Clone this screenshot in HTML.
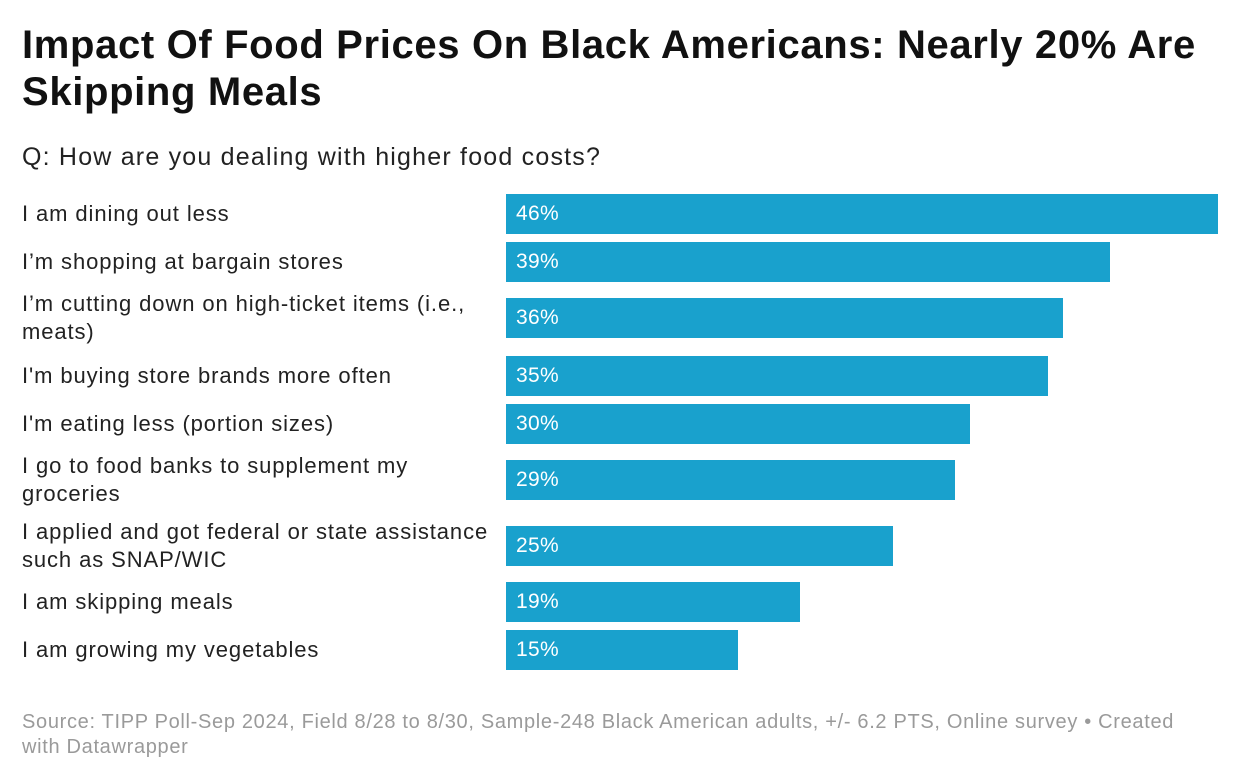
<!DOCTYPE html>
<html><head><meta charset="utf-8"><style>
body{margin:0;width:1240px;height:784px;background:#fff;font-family:"Liberation Sans",sans-serif;overflow:hidden;position:relative}
h1{position:absolute;left:22px;top:22px;margin:0;font-size:40px;line-height:47px;font-weight:bold;color:#111;width:1215px;letter-spacing:0.65px;white-space:pre-line}
.sub{position:absolute;left:22px;top:143px;font-size:25px;color:#222;letter-spacing:1.2px}
#chart{position:absolute;left:22px;top:194px;width:1200px;display:flex;flex-direction:column;gap:8px}
.row{display:flex;align-items:center;min-height:40px}
.row.two{margin-bottom:2px}
.row.two:nth-child(7){margin-bottom:0}
.lab{width:484px;font-size:22px;line-height:28px;color:#222;letter-spacing:0.9px;white-space:pre-line}
.bar{height:40px;background:#19a1cd;color:#fff;font-size:21px;display:flex;align-items:center;padding-left:10px;box-sizing:border-box;letter-spacing:0.3px}
.foot{position:absolute;left:22px;top:710px;width:1215px;font-size:20px;line-height:25px;color:#9a9a9a;letter-spacing:0.68px;white-space:pre-line}
</style></head><body>
<h1>Impact Of Food Prices On Black Americans: Nearly 20% Are
Skipping Meals</h1>
<div class="sub">Q: How are you dealing with higher food costs?</div>
<div id="chart"></div>
<div class="foot">Source: TIPP Poll-Sep 2024, Field 8/28 to 8/30, Sample-248 Black American adults, +/- 6.2 PTS, Online survey • Created
with Datawrapper</div>
<script>
const categories=["I am dining out less","I’m shopping at bargain stores","I’m cutting down on high-ticket items (i.e.,\nmeats)","I'm buying store brands more often","I'm eating less (portion sizes)","I go to food banks to supplement my\ngroceries","I applied and got federal or state assistance\nsuch as SNAP/WIC","I am skipping meals","I am growing my vegetables"];
const values=[46,39,36,35,30,29,25,19,15];
const maxV=46, barMax=712;
const x=v=>v/maxV*barMax;
const chart=document.getElementById('chart');
categories.forEach((c,i)=>{
  const row=document.createElement('div');row.className='row'+(c.includes('\n')?' two':'');
  
  
  const l=document.createElement('div');l.className='lab';l.textContent=c;
  
  
  const b=document.createElement('div');b.className='bar';b.style.width=x(values[i])+'px';b.textContent=values[i]+'%';
  
  
  row.appendChild(l);row.appendChild(b);chart.appendChild(row);
});
</script>
</body></html>
